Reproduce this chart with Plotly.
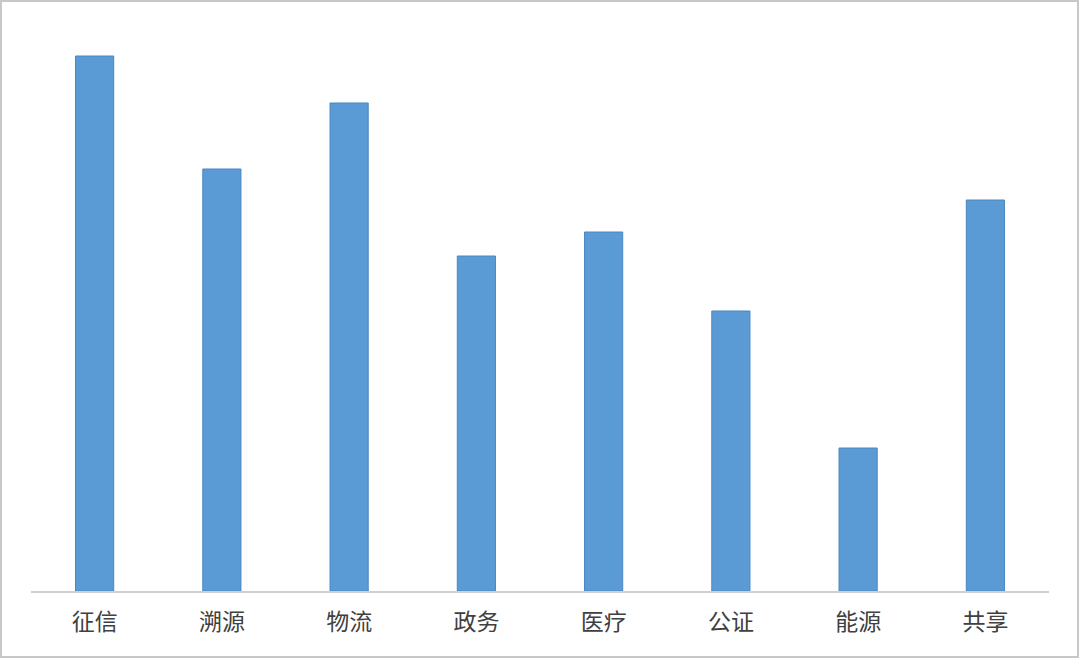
import plotly.graph_objects as go

# data (relative bar heights)
categories = ["征信", "溯源", "物流", "政务", "医疗", "公证", "能源", "共享"]
values = [535, 422, 488, 335, 359, 280, 143, 391]

W, H = 1080, 659
ml, mr, mt, mb = 31, 31, 30, 68
plot_h = H - mt - mb

fig = go.Figure()
fig.add_trace(
    go.Bar(
        x=categories,
        y=values,
        marker=dict(color="#5b9bd5", line=dict(color="#4a86c0", width=1)),
        hoverinfo="x+y",
    )
)

# thin grey frame around the whole picture (paper coords relative to plot area)
pw = W - ml - mr
fig.add_shape(
    type="rect", xref="paper", yref="paper",
    x0=(1 - ml) / pw, x1=(W - 2 - ml) / pw,
    y0=-(mb - 2) / plot_h, y1=1 + (mt - 1) / plot_h,
    line=dict(color="#c8c8c8", width=2),
)

fig.update_layout(
    width=W,
    height=H,
    autosize=False,
    margin=dict(l=ml, r=mr, t=mt, b=mb),
    paper_bgcolor="white",
    plot_bgcolor="white",
    bargap=0.7,
    showlegend=False,
    font=dict(family="Noto Sans CJK SC", size=23, color="#404040"),
    xaxis=dict(
        showline=True,
        linecolor="#d0d0d0",
        linewidth=1.5,
        ticks="",
        showgrid=False,
        ticklabelstandoff=10,
    ),
    yaxis=dict(
        range=[0, plot_h],
        visible=False,
        showgrid=False,
        zeroline=False,
    ),
)

fig.write_html(
    "out.html",
    config={"displayModeBar": False},
    post_script="document.body.style.margin='0';",
)
